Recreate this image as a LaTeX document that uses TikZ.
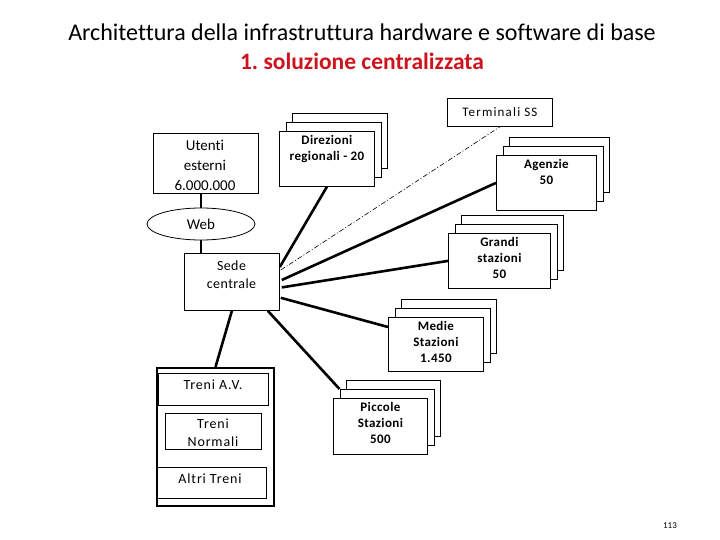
\documentclass[tikz,border=0pt]{standalone}
\usepackage{fontspec}
\setmainfont{Carlito}[Ligatures=NoCommon]
\newfontfamily\wideA{Carlito}[Ligatures=NoCommon,LetterSpace=9]
\newfontfamily\wideB{Carlito}[Ligatures=NoCommon,LetterSpace=6]
\newfontfamily\wideC{Carlito}[Ligatures=NoCommon,LetterSpace=3]
\usetikzlibrary{shapes.geometric,calc}
\definecolor{titlered}{RGB}{205,20,30}
\tikzset{
  box/.style={draw=black, line width=0.8pt, fill=white, rectangle, inner sep=0pt},
  conn/.style={line width=2.6pt, line cap=butt},
  dashdot/.style={line width=0.6pt, dash pattern=on 5pt off 2pt on 1pt off 2pt},
  txt/.style={inner sep=0pt, align=center, text=black},
  stacktxt/.style={txt, font=\wideC\bfseries\fontsize{13}{16}\selectfont},
  trtxt/.style={txt, font=\wideB\fontsize{14}{18}\selectfont},
}
\newcommand\mystack[6]{%
  \node[box, minimum width=#4pt, minimum height=#5pt, anchor=north west] (#1c) at (#2+13,#3-18) {};
  \node[box, minimum width=#4pt, minimum height=#5pt, anchor=north west] (#1b) at (#2+6.5,#3-9) {};
  \node[box, minimum width=#4pt, minimum height=#5pt, anchor=north west] (#1) at (#2,#3) {};
  \node[stacktxt, anchor=north] (#1t) at ($(#1.north)+(0,4)$) {#6};
}
\begin{document}
\frenchspacing
\begin{tikzpicture}[x=1pt,y=-1pt]
\useasboundingbox (0,0) rectangle (720,540);
% title
\node[txt, font=\fontsize{24}{28}\selectfont] (title) at (362,32) {Architettura della infrastruttura hardware e software di base};
\node[txt, font=\bfseries\fontsize{23.5}{28}\selectfont, text=titlered] (subtitle) at (362,61) {1. soluzione centralizzata};
% boxes
\node[box, minimum width=105pt, minimum height=28pt, anchor=north west, font=\wideA\fontsize{13}{16}\selectfont] (term) at (447,98) {Terminali SS};
\node[box, minimum width=105pt, minimum height=60pt, anchor=north west] (ute) at (153,133) {};
\node[txt, font=\fontsize{15}{20}\selectfont] (utet) at (205,165.5) {Utenti\\esterni\\6.000.000};
\mystack{dir}{279}{131}{95}{55}{Direzioni\\regionali - 20}
\mystack{agz}{496}{155}{100}{55}{Agenzie\\50}
\node[draw, line width=0.8pt, fill=white, ellipse, minimum width=108pt, minimum height=32pt, inner sep=0pt, font=\fontsize{15}{18}\selectfont] (web) at (201,224) {Web};
\node[box, minimum width=95pt, minimum height=57pt, anchor=north west] (sede) at (184,253) {};
\node[txt, font=\wideC\fontsize{14}{18}\selectfont] (sedet) at (231.5,275) {Sede\\centrale};
\mystack{gra}{448}{233}{102}{55}{Grandi\\stazioni\\50}
\mystack{med}{388}{317}{95}{54}{Medie\\Stazioni\\1.450}
\mystack{pic}{333}{398}{94}{56}{Piccole\\Stazioni\\500}
% trains
\node[box, line width=2pt, minimum width=117pt, minimum height=138pt, anchor=north west] (treni) at (156,367) {};
\node[box, minimum width=110pt, minimum height=32pt, anchor=north west] (tav) at (158,373) {};
\node[trtxt] (tavt) at (213,385) {Treni A.V.};
\node[box, minimum width=96pt, minimum height=36pt, anchor=north west] (tno) at (165,413) {};
\node[trtxt] (tnot) at (213,433) {Treni\\Normali};
\node[box, minimum width=109pt, minimum height=31pt, anchor=north west] (tal) at (157,467) {};
\node[trtxt] (talt) at (210,479) {Altri Treni};
% page number
\node[txt, font=\fontsize{9}{11}\selectfont] (page) at (670,526) {113};
% connectors
\draw[conn] (web.north) -- (web.north |- ute.south);
\draw[conn] (web.south) -- (web.south |- sede.north);
\draw[conn] (sede.south) -- (treni.north);
\draw[conn] ($(sede.north east)+(0,14)$) -- (dir.south);
\draw[dashdot] ($(sede.north east)+(1,17)$) -- (term.south);
\draw[conn] ($(sede.north east)+(2,27)$) -- (agz.west);
\draw[conn] ($(sede.east)+(2,5.5)$) -- (gra.west);
\draw[conn] ($(sede.south east)+(1,-13)$) -- ($(med.north west)+(0,10)$);
\draw[conn] ($(sede.south east)+(-12,0)$) -- (picb.north west);
\end{tikzpicture}
\end{document}
